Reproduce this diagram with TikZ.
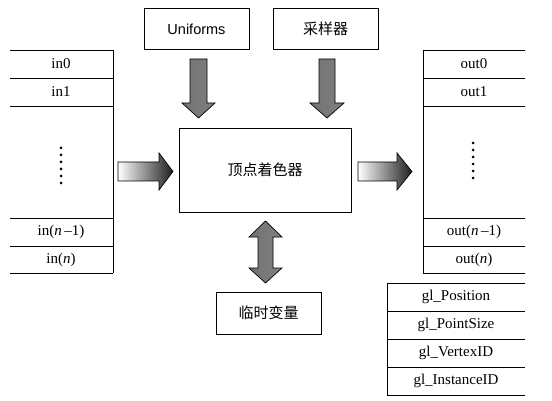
\documentclass[tikz,border=0pt]{standalone}
\usepackage{fontspec}
\setmainfont{Liberation Serif}
\newfontfamily\cjk{Noto Sans CJK SC}
\newfontfamily\ufont{Liberation Sans}
\begin{document}
\begin{tikzpicture}[x=1pt,y=-1pt,
  line width=0.8pt,
  boxstyle/.style={draw,line width=0.8pt,inner sep=0pt},
  rowtxt/.style={font=\fontsize{15}{17}\selectfont,inner sep=0pt},
  cjktxt/.style={font=\cjk\fontsize{15}{17}\selectfont,inner sep=0pt},
  dotstyle/.style={fill=black},
  downarrow/.style={draw=black,line width=0.7pt,left color=black!55,middle color=black!12,right color=black!50},
  sidearrow/.style={draw=black,line width=0.7pt,left color=white,right color=black!88}
]
\useasboundingbox (0,0) rectangle (552,401);

% ---- top boxes
\draw[boxstyle] (144,8) rectangle (249,49);
\node[font=\ufont\fontsize{14.5}{16}\selectfont,inner sep=0pt] (unif) at (196.5,29) {Uniforms};
\draw[boxstyle] (273,8) rectangle (378,49);
\node[cjktxt] (samp) at (325.5,29) {采样器};

% ---- shader box
\draw[boxstyle] (179,128) rectangle (351,212);
\node[cjktxt] (vs) at (265,170) {顶点着色器};

% ---- temp vars box
\draw[boxstyle] (216,292) rectangle (321,334);
\node[cjktxt] (tmp) at (268.5,313) {临时变量};

% ---- left list
\foreach \yy in {50,78,106,218,246,273} \draw (10,\yy) -- (113,\yy);
\draw (113,50) -- (113,273);
\node[rowtxt] (in0) at (61,64) {in0};
\node[rowtxt] (in1) at (61,92) {in1};
\node[rowtxt] (inm) at (61,232) {in(\textit{n}\,–1)};
\node[rowtxt] (inn) at (61,259.5) {in(\textit{n})};
\foreach \k in {0,...,5} \fill[dotstyle] (61,148+7*\k) circle (1.5);

% ---- right list
\foreach \yy in {50,78,106,218,246,273} \draw (423,\yy) -- (525,\yy);
\draw (423,50) -- (423,273);
\node[rowtxt] (out0) at (474,64) {out0};
\node[rowtxt] (out1) at (474,92) {out1};
\node[rowtxt] (outm) at (474,232) {out(\textit{n}\,–1)};
\node[rowtxt] (outn) at (474,259.5) {out(\textit{n})};
\foreach \k in {0,...,5} \fill[dotstyle] (473,143+7*\k) circle (1.5);

% ---- gl builtins
\foreach \yy in {283,311,339,367,395} \draw (387,\yy) -- (525,\yy);
\draw (387,283) -- (387,395);
\node[rowtxt] (glp) at (456,297) {gl\_Position};
\node[rowtxt] (glps) at (456,325) {gl\_PointSize};
\node[rowtxt] (glv) at (456,353) {gl\_VertexID};
\node[rowtxt] (gli) at (456,381) {gl\_InstanceID};

% ---- block arrows
\shadedraw[downarrow] (190,59) -- (207,59) -- (207,103) -- (215,103) -- (198.5,118) -- (182,103) -- (190,103) -- cycle;
\shadedraw[downarrow] (319,59) -- (335,59) -- (335,103) -- (344,103) -- (327,118) -- (310,103) -- (319,103) -- cycle;
\shadedraw[downarrow] (265.5,221) -- (282,237) -- (273,237) -- (273,268) -- (282,268) -- (265.5,283) -- (249,268) -- (258,268) -- (258,237) -- (249,237) -- cycle;
\shadedraw[sidearrow] (118,162) -- (159,162) -- (159,153) -- (173,171.5) -- (159,190) -- (159,181) -- (118,181) -- cycle;
\shadedraw[sidearrow] (358,162) -- (397,162) -- (397,153) -- (412,171.5) -- (397,190) -- (397,181) -- (358,181) -- cycle;
\end{tikzpicture}
\end{document}
